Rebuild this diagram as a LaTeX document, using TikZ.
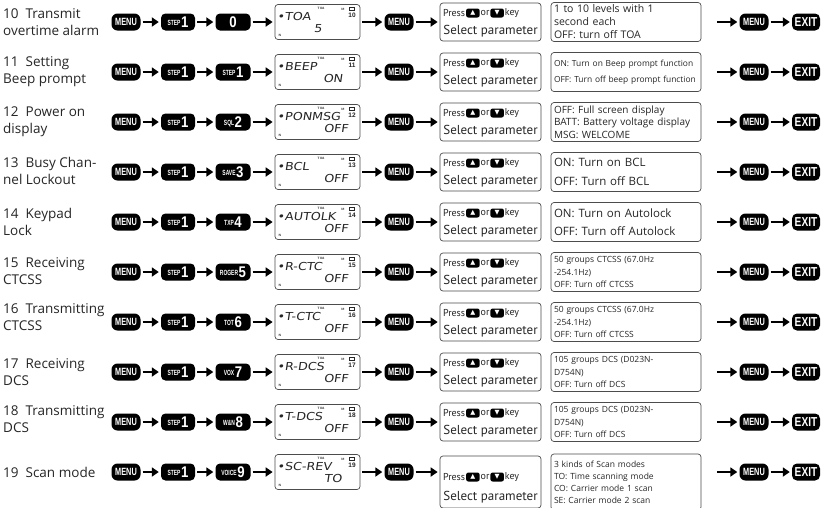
\documentclass[tikz,border=0pt]{standalone}
\usepackage{fontspec}
\setmainfont{Open Sans}
\newfontfamily\pressfont{PT Sans}
\newfontfamily\keyfont{Liberation Sans}
\newfontfamily\lcdfont[FakeSlant=0.15,FakeStretch=1.15]{DejaVu Sans}
\newfontfamily\symfont{DejaVu Sans}
\usetikzlibrary{arrows.meta,positioning}

\newcommand\menutxt{\scalebox{0.7}[1]{\keyfont\bfseries\fontsize{10.5}{10.5}\selectfont MENU}}
\newcommand\exittxt{\scalebox{0.78}[1]{\keyfont\bfseries\fontsize{13}{13}\selectfont EXIT}}
\newcommand\numkey[2]{\raisebox{2pt}{\scalebox{0.66}[1]{\keyfont\bfseries\fontsize{7.5}{7.5}\selectfont #1}}\hspace{0.6pt}\scalebox{0.85}[1]{\keyfont\bfseries\fontsize{15.5}{15.5}\selectfont #2}}

\tikzset{
  blackkey/.style={fill=black, text=white, rounded corners=4.5pt, minimum height=17pt, inner sep=0pt},
  menukey/.style={blackkey, minimum width=29pt, rounded corners=6pt},
  arr/.style={line width=2.5pt, -{Triangle[length=7pt,width=9pt]}, shorten <=2pt, shorten >=2pt},
  boxframe/.style={draw=black!70, line width=0.7pt, rounded corners=3pt},
  lcd/.style={boxframe, minimum width=85pt, minimum height=35pt, inner sep=0pt},
  pbox/.style={boxframe, minimum width=101pt, minimum height=38pt, inner sep=0pt},
  dbox/.style={boxframe, text width=144pt, minimum height=39pt, inner xsep=3pt, inner ysep=1pt, align=left, text=black!85},
  rowlabel/.style={anchor=west, align=left, text=black!85, font=\fontsize{13.5}{17}\selectfont, inner sep=0pt},
  lcdtxt/.style={inner sep=0pt, text=black!85, font=\lcdfont\fontsize{11}{11}\selectfont},
  tinytxt/.style={inner sep=0pt, text=black!85, font=\sffamily\bfseries\fontsize{3.2}{3.2}\selectfont},
  numtxt/.style={inner sep=0pt, text=black!85, font=\keyfont\bfseries\fontsize{6.5}{6.5}\selectfont},
  presstxt/.style={inner sep=0.3pt, text=black!85, font=\pressfont\fontsize{10}{10}\selectfont},
  seltxt/.style={inner sep=0pt, text=black!85, font=\pressfont\fontsize{13}{13}\selectfont},
  trikey/.style={fill=black, text=white, rounded corners=2.2pt, minimum width=13.5pt, minimum height=9pt, inner sep=0pt, font=\symfont\fontsize{6.5}{6.5}\selectfont},
}

% press-box geometry (changed for the last row only)
\def\pboxdy{0}\def\pboxh{38}\def\pressdy{-9}\def\seldy{9}

% #1 id, #2 y, #3 third key, #4 lcd top, #5 lcd bottom, #6 bottom x, #7 offset of desc box, #8 desc style, #9 desc text
\newcommand\frow[9]{%
  \node[menukey] (ma#1) at (126,#2) {\menutxt};
  \node[blackkey, minimum width=34pt] (st#1) at (178,#2) {\numkey{STEP}{1}};
  \node[blackkey, minimum width=35pt] (kc#1) at (233,#2) {#3};
  \node[lcd] (lcd#1) at (317.5,#2) {};
  \node[lcdtxt, anchor=west] (lt#1) at (277,#2-6) {•#4};
  \node[lcdtxt] (lb#1) at (#6,#2+6.5) {#5};
  \node[tinytxt] (li#1) at (321,#2-14) {TOA};
  \node[tinytxt] (lm#1) at (343,#2-13) {M};
  \node[tinytxt] (ln#1) at (280,#2+13) {N};
  \node[numtxt] (lc#1) at (352,#2-7) {#1};
  \draw[black!85, line width=0.5pt] (349.5,#2-14.5) rectangle (354.5,#2-12);
  \node[menukey] (mb#1) at (399,#2) {\menutxt};
  \node[pbox, minimum height=\pboxh pt] (pb#1) at (490.5,#2+\pboxdy) {};
  \node[presstxt, anchor=west] (pp#1) at (442.5,#2+\pressdy) {Press};
  \node[trikey, right=0.3pt of pp#1] (pu#1) {▲};
  \node[presstxt, right=0.3pt of pu#1] (po#1) {or};
  \node[trikey, right=0.3pt of po#1] (pd#1) {▼};
  \node[presstxt, right=0.3pt of pd#1] (pk#1) {key};
  \node[seltxt] (ps#1) at (490.5,#2+\seldy) {Select parameter};
  \node[dbox, #8] (ds#1) at (626,#2+#7) {#9};
  \node[menukey] (mc#1) at (754,#2) {\menutxt};
  \node[blackkey, minimum width=28pt, rounded corners=5pt] (ex#1) at (806,#2) {\exittxt};
  \draw[arr] (ma#1) -- (st#1);
  \draw[arr] (st#1) -- (kc#1);
  \draw[arr] (kc#1) -- (lcd#1);
  \draw[arr] (lcd#1) -- (mb#1);
  \draw[arr] (mb#1) -- (pb#1.west |- mb#1);
  \draw[arr, shorten <=16pt] (ds#1.east |- mc#1) -- (mc#1);
  \draw[arr] (mc#1) -- (ex#1);
}

\begin{document}
\begin{tikzpicture}[x=1pt, y=-1pt]
\useasboundingbox (0,0) rectangle (824,507);
\clip (0,0) rectangle (824,507);
\fill[white] (0,0) rectangle (824,507);

\node[rowlabel] (lab10) at (3,22) {10\ \ Transmit\\overtime alarm};
\frow{10}{22}{\scalebox{0.85}[1]{\keyfont\bfseries\fontsize{15.5}{15.5}\selectfont 0}}{TOA}{5}{318}{0}
  {font=\fontsize{10.5}{13}\selectfont}{1 to 10 levels with 1\\second each\\OFF: turn off TOA}

\node[rowlabel] (lab11) at (3,72) {11\ \ Setting\\Beep prompt};
\frow{11}{72}{\numkey{STEP}{1}}{BEEP}{ON}{333}{0}
  {font=\fontsize{8.4}{16}\selectfont}{ON: Turn on Beep prompt function\\OFF: Turn off beep prompt function}

\node[rowlabel] (lab12) at (3,122) {12\ \ Power on\\display};
\frow{12}{122}{\numkey{SQL}{2}}{PONMSG}{OFF}{336}{0}
  {font=\fontsize{10}{12.5}\selectfont}{OFF: Full screen display\\BATT: Battery voltage display\\MSG: WELCOME}

\node[rowlabel] (lab13) at (3,171) {13\ \ Busy Chan-\\nel Lockout};
\frow{13}{172}{\numkey{SAVE}{3}}{BCL}{OFF}{336}{0}
  {font=\fontsize{11.5}{18.5}\selectfont}{ON: Turn on BCL\\OFF: Turn off BCL}

\node[rowlabel] (lab14) at (3,222) {14\ \ Keypad\\Lock};
\frow{14}{222}{\numkey{TXP}{4}}{AUTOLK}{OFF}{336}{0}
  {font=\fontsize{11.5}{18.5}\selectfont}{ON: Turn on Autolock\\OFF: Turn off Autolock}

\node[rowlabel] (lab15) at (3,271) {15\ \ Receiving\\CTCSS};
\frow{15}{272}{\numkey{ROGER}{5}}{R-CTC}{OFF}{336}{0}
  {font=\fontsize{8.5}{12.5}\selectfont}{50 groups CTCSS (67.0Hz\\-254.1Hz)\\OFF: Turn off CTCSS}

\node[rowlabel] (lab16) at (3,317) {16\ \ Transmitting\\CTCSS};
\frow{16}{322}{\numkey{TOT}{6}}{T-CTC}{OFF}{336}{0}
  {font=\fontsize{8.5}{12.5}\selectfont}{50 groups CTCSS (67.0Hz\\-254.1Hz)\\OFF: Turn off CTCSS}

\node[rowlabel] (lab17) at (3,372) {17\ \ Receiving\\DCS};
\frow{17}{372}{\numkey{VOX}{7}}{R-DCS}{OFF}{336}{0}
  {font=\fontsize{8.5}{12.5}\selectfont}{105 groups DCS (D023N-\\D754N)\\OFF: Turn off DCS}

\node[rowlabel] (lab18) at (3,419) {18\ \ Transmitting\\DCS};
\frow{18}{422}{\numkey{W\&N}{8}}{T-DCS}{OFF}{336}{0}
  {font=\fontsize{8.5}{12.5}\selectfont}{105 groups DCS (D023N-\\D754N)\\OFF: Turn off DCS}

\def\pboxdy{10}\def\pboxh{52}\def\pressdy{5}\def\seldy{25}
\node[rowlabel] (lab19) at (3,472) {19\ \ Scan mode};
\frow{19}{472}{\numkey{VOICE}{9}}{SC-REV}{TO}{333}{10}
  {font=\fontsize{8.5}{12}\selectfont, minimum height=56pt}{3 kinds of Scan modes\\TO: Time scanning mode\\CO: Carrier mode 1 scan\\SE: Carrier mode 2 scan}
\end{tikzpicture}
\end{document}
